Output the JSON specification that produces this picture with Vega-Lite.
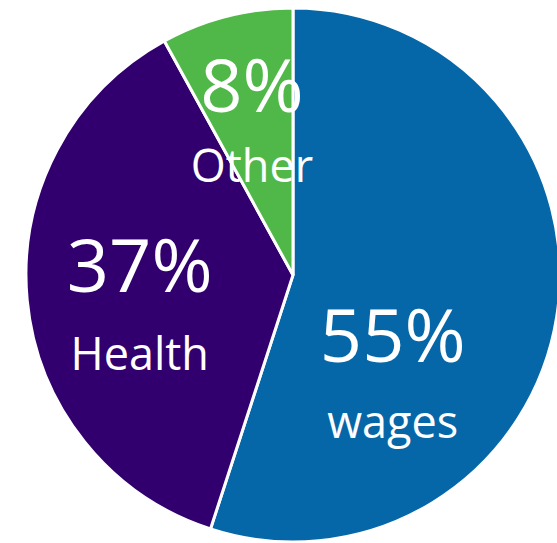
{
  "$schema": "https://vega.github.io/schema/vega-lite/v6.json",
  "width": 586,
  "height": 550,
  "autosize": "none",
  "padding": 0,
  "background": "white",
  "config": {"view": {"stroke": null}},
  "data": {
    "values": [
      {"cat": "wages", "ord": 1, "pct": 55, "label": "55%"},
      {"cat": "Health", "ord": 2, "pct": 37, "label": "37%"},
      {"cat": "Other", "ord": 3, "pct": 8, "label": "8%"}
    ]
  },
  "encoding": {
    "theta": {"field": "pct", "type": "quantitative", "stack": true},
    "order": {"field": "ord", "type": "quantitative"}
  },
  "layer": [
    {
      "mark": {"type": "arc", "outerRadius": 267, "stroke": "white", "strokeWidth": 3},
      "encoding": {
        "color": {
          "field": "cat",
          "type": "nominal",
          "scale": {"domain": ["wages", "Health", "Other"], "range": ["#0667A8", "#32006E", "#50B848"]},
          "legend": null
        }
      }
    },
    {
      "mark": {
        "type": "text",
        "font": "Open Sans",
        "fontSize": 74,
        "color": "white",
        "align": "center",
        "baseline": "alphabetic",
        "radius": {"expr": "datum.cat == 'wages' ? 101 : datum.cat == 'Health' ? 154 : 165"},
        "dy": {"expr": "datum.cat == 'wages' ? 71 : datum.cat == 'Health' ? 3 : -3"}
      },
      "encoding": {"text": {"field": "label"}}
    },
    {
      "mark": {
        "type": "text",
        "font": "Open Sans",
        "fontSize": 45,
        "color": "white",
        "align": "center",
        "baseline": "alphabetic",
        "radius": {"expr": "datum.cat == 'wages' ? 101 : datum.cat == 'Health' ? 154 : 165"},
        "dy": {"expr": "datum.cat == 'wages' ? 147 : datum.cat == 'Health' ? 81 : 67"}
      },
      "encoding": {"text": {"field": "cat"}}
    }
  ]
}
